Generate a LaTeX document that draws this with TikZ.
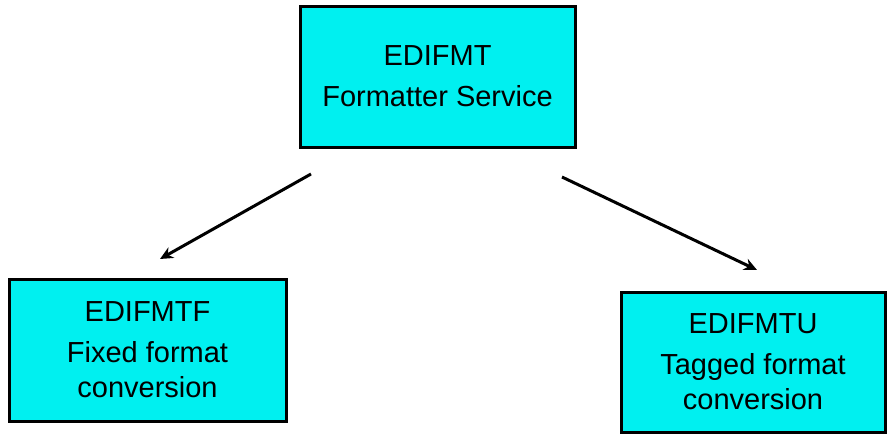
\documentclass[tikz,border=0pt]{standalone}
\usepackage{fontspec}
\setmainfont{Liberation Sans}
\usetikzlibrary{arrows.meta}
\definecolor{boxcyan}{HTML}{00F0F0}
\tikzstyle{service} = [rectangle, minimum width=275pt, minimum height=140pt, text centered, align=center, draw=black, fill=boxcyan, line width=3pt, inner sep=2pt, font=\fontsize{29}{35}\selectfont]
\tikzstyle{arrow} = [line width=3pt,-{Stealth[length=13pt,width=12pt]}]

\begin{document}
\begin{tikzpicture}[x=1pt, y=-1pt]
\useasboundingbox (0,0) rectangle (888,434);

% Top node
\node (fmt) [service, minimum width=275pt, minimum height=141pt] at (437.5,76.5) {EDIFMT\\[6pt]Formatter Service};

% Bottom nodes
\node (fmtf) [service, minimum width=277pt, minimum height=142pt] at (147.5,350) {EDIFMTF\\[6pt]Fixed format\\conversion};
\node (fmtu) [service, minimum width=264pt, minimum height=140pt] at (753,362) {EDIFMTU\\[6pt]Tagged format\\conversion};

% Arrow ends
\coordinate (fromL) at (311,174);
\coordinate (toL) at (160,259);
\coordinate (fromR) at (562,177);
\coordinate (toR) at (757,270);

% Drawing arrows
\draw [arrow] (fromL) -- (toL);
\draw [arrow] (fromR) -- (toR);

\end{tikzpicture}
\end{document}
